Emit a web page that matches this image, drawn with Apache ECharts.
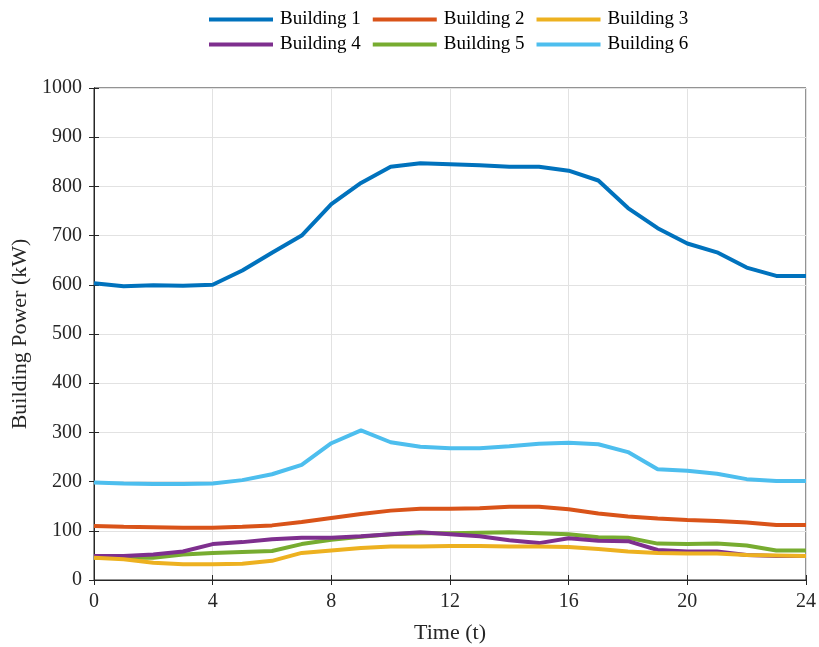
<!DOCTYPE html>
<html><head><meta charset="utf-8">
<script src="https://cdn.jsdelivr.net/npm/echarts@6/dist/echarts.min.js"></script>
<style>html,body{margin:0;padding:0;background:#fff}#c{width:819px;height:647px}</style>
</head><body><div id="c"></div>
<script>
const hours = [0,1,2,3,4,5,6,7,8,9,10,11,12,13,14,15,16,17,18,19,20,21,22,23,24];
const names = ['Building 1','Building 2','Building 3','Building 4','Building 5','Building 6'];
const b1 = [603,597,599,598,600,629,665,700,764,807,840,847,845,843,840,840,832,812,756,715,684,666,635,618,618];
const b2 = [110,108,107,106,106,108,111,118,126,134,141,145,145,146,149,149,144,135,129,125,122,120,117,112,112];
const b3 = [45,42,35,32,32,33,39,55,60,65,68,68,69,69,68,68,67,63,58,55,54,54,51,50,49];
const b4 = [49,49,52,58,73,77,83,86,86,89,93,97,93,89,81,75,85,80,79,61,58,58,51,49,49];
const b5 = [45,45,45,52,55,57,59,73,82,88,93,95,95,96,97,95,93,87,86,74,73,74,70,60,60];
const b6 = [198,196,195,195,196,203,215,234,278,304,280,271,268,268,272,277,279,276,260,225,222,216,205,201,201];
const colors = ['#0072BD','#D95319','#EDB120','#7E2F8E','#77AC30','#4DBEEE'];
const xTicks = [0,4,8,12,16,20,24];
const yTicks = [0,100,200,300,400,500,600,700,800,900,1000];

const allData = [b1,b2,b3,b4,b5,b6];
const font = 'Liberation Serif';
const axisCol = '#262626';
const chart = echarts.init(document.getElementById('c'));
const legendBase = {
  icon: 'rect', itemWidth: 64, itemHeight: 4, itemGap: 12, padding: 0,
  textStyle: {fontFamily: font, fontSize: 19, color: '#000', padding: [0,0,0,2]}, left: 209
};
chart.setOption({
  animation: false,
  color: colors,
  legend: [
    Object.assign({}, legendBase, {top: 10, data: names.slice(0,3)}),
    Object.assign({}, legendBase, {top: 35, data: names.slice(3,6)})
  ],
  grid: {left: 94, right: 13, top: 88, bottom: 67, show: true, borderColor: axisCol, borderWidth: 1,
    containLabel: false, outerBoundsMode: 'none'},
  xAxis: [{
    type: 'value', min: 0, max: 24, interval: 4,
    name: 'Time (t)', nameLocation: 'middle', nameGap: 42,
    nameTextStyle: {fontFamily: font, fontSize: 22, color: '#262626'},
    axisLine: {lineStyle: {color: axisCol}},
    axisTick: {inside: true, length: 5, lineStyle: {color: axisCol}},
    axisLabel: {fontFamily: font, fontSize: 20, color: '#262626', margin: 12,
      formatter: v => String(v)},
    splitLine: {lineStyle: {color: '#e2e2e2'}}
  }, {
    type: 'value', min: 0, max: 24, interval: 4, position: 'top',
    axisLine: {lineStyle: {color: axisCol}},
    axisTick: {inside: true, length: 5, lineStyle: {color: axisCol}},
    axisLabel: {show: false}, splitLine: {show: false}
  }],
  yAxis: [{
    type: 'value', min: 0, max: 1000, interval: 100,
    name: 'Building Power (kW)', nameLocation: 'middle', nameGap: 59,
    nameTextStyle: {fontFamily: font, fontSize: 22, color: '#262626'},
    axisLine: {show: true, lineStyle: {color: axisCol}},
    axisTick: {show: true, inside: true, length: 5, lineStyle: {color: axisCol}},
    axisLabel: {fontFamily: font, fontSize: 20, color: '#262626', margin: 12,
      formatter: v => String(v)},
    splitLine: {lineStyle: {color: '#e2e2e2'}}
  }, {
    type: 'value', min: 0, max: 1000, interval: 100, position: 'right',
    axisLine: {show: true, lineStyle: {color: axisCol}},
    axisTick: {show: true, inside: true, length: 5, lineStyle: {color: axisCol}},
    axisLabel: {show: false}, splitLine: {show: false}
  }],
  series: names.map((n, i) => ({
    name: n, type: 'line', symbol: 'none', z: 10 - i,
    lineStyle: {width: 4, color: colors[i]}, itemStyle: {color: colors[i]},
    data: hours.map((h, k) => [h, allData[i][k]])
  }))
});
</script></body></html>
